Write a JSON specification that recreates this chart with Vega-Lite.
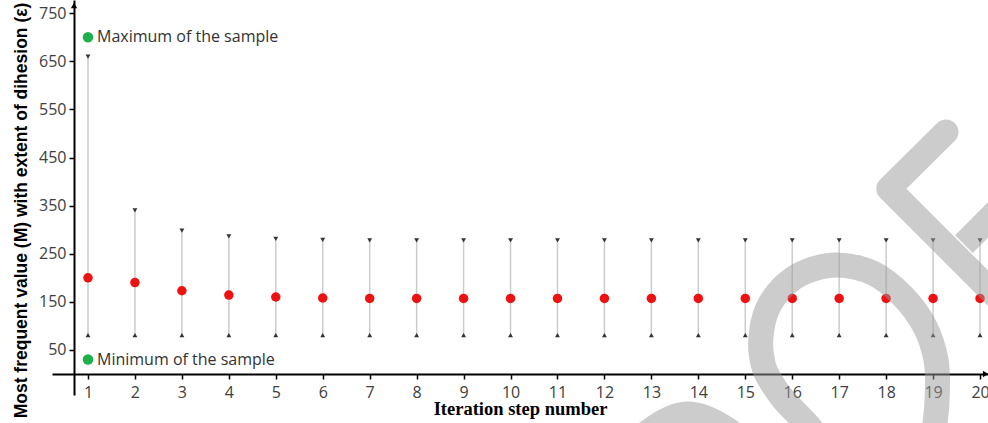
{
  "$schema": "https://vega.github.io/schema/vega-lite/v6.json",
  "width": 936,
  "height": 395,
  "autosize": {"type": "none"},
  "padding": {"left": 52, "top": 0, "right": 0, "bottom": 28},
  "background": "white",
  "config": {"view": {"stroke": null}},
  "datasets": {
    "steps": [
      {"step": 1, "m": 200, "lo": 81, "hi": 660},
      {"step": 2, "m": 190, "lo": 81, "hi": 340},
      {"step": 3, "m": 173, "lo": 81, "hi": 298},
      {"step": 4, "m": 164, "lo": 81, "hi": 286},
      {"step": 5, "m": 160, "lo": 81, "hi": 281},
      {"step": 6, "m": 158, "lo": 81, "hi": 279},
      {"step": 7, "m": 157, "lo": 81, "hi": 278},
      {"step": 8, "m": 157, "lo": 81, "hi": 278},
      {"step": 9, "m": 157, "lo": 81, "hi": 278},
      {"step": 10, "m": 157, "lo": 81, "hi": 278},
      {"step": 11, "m": 157, "lo": 81, "hi": 278},
      {"step": 12, "m": 157, "lo": 81, "hi": 278},
      {"step": 13, "m": 157, "lo": 81, "hi": 278},
      {"step": 14, "m": 157, "lo": 81, "hi": 278},
      {"step": 15, "m": 157, "lo": 81, "hi": 278},
      {"step": 16, "m": 157, "lo": 81, "hi": 278},
      {"step": 17, "m": 157, "lo": 81, "hi": 278},
      {"step": 18, "m": 157, "lo": 81, "hi": 278},
      {"step": 19, "m": 157, "lo": 81, "hi": 278},
      {"step": 20, "m": 157, "lo": 81, "hi": 278}
    ],
    "legend": [
      {"step": 1, "v": 700, "label": "Maximum of the sample"},
      {"step": 1, "v": 30, "label": "Minimum of the sample"}
    ],
    "arrows": [
      {"step": 0.7018, "v": 766, "shape": "triangle-up"},
      {"step": 20.12, "v": 0, "shape": "triangle-right"}
    ],
    "watermark": [
      {"piece": "ring", "i": 1, "x": 16.698, "y": -147.6},
      {"piece": "ring", "i": 2, "x": 16.294, "y": -101.9},
      {"piece": "ring", "i": 3, "x": 15.825, "y": -54.1},
      {"piece": "ring", "i": 4, "x": 15.527, "y": -12.5},
      {"piece": "ring", "i": 5, "x": 15.384, "y": 18.7},
      {"piece": "ring", "i": 6, "x": 15.329, "y": 70.7},
      {"piece": "ring", "i": 7, "x": 15.463, "y": 133.1},
      {"piece": "ring", "i": 8, "x": 15.804, "y": 180.9},
      {"piece": "ring", "i": 9, "x": 16.273, "y": 212.1},
      {"piece": "ring", "i": 10, "x": 16.948, "y": 226.6},
      {"piece": "ring", "i": 11, "x": 17.727, "y": 209.4},
      {"piece": "ring", "i": 12, "x": 18.366, "y": 160.7},
      {"piece": "ring", "i": 13, "x": 18.829, "y": 98.3},
      {"piece": "ring", "i": 14, "x": 19.063, "y": 29.1},
      {"piece": "ring", "i": 15, "x": 19.091, "y": -40.1},
      {"piece": "ring", "i": 16, "x": 19.042, "y": -101.9},
      {"piece": "ring", "i": 17, "x": 18.935, "y": -158.0},
      {"piece": "arc", "i": 1, "x": 12.332, "y": -189.2},
      {"piece": "arc", "i": 2, "x": 12.928, "y": -120.6},
      {"piece": "arc", "i": 3, "x": 13.759, "y": -83.2},
      {"piece": "arc", "i": 4, "x": 14.632, "y": -116.4},
      {"piece": "arc", "i": 5, "x": 15.208, "y": -178.8}
    ],
    "fshape": [
      {"piece": "f", "i": 1, "x": 19.276, "y": 503.1},
      {"piece": "f", "i": 2, "x": 18.057, "y": 385.1},
      {"piece": "f", "i": 3, "x": 21.917, "y": 8.3}
    ],
    "fbar": [
      {"piece": "bar", "i": 1, "x": 19.657, "y": 270.1},
      {"piece": "bar", "i": 2, "x": 21.065, "y": 407.5}
    ]
  },
  "layer": [
    {
      "data": {"name": "steps"},
      "mark": {"type": "rule", "color": "#cccccc", "strokeWidth": 1.5},
      "encoding": {
        "x": {
          "field": "step", "type": "quantitative",
          "scale": {"domain": [0.2332, 20.17], "nice": false, "zero": false},
          "axis": {
            "orient": "bottom", "offset": -21,
            "values": [1,2,3,4,5,6,7,8,9,10,11,12,13,14,15,16,17,18,19,20],
            "format": "d", "grid": false,
            "domainColor": "#000000", "domainWidth": 2,
            "tickColor": "#000000", "tickSize": 5, "tickWidth": 1.5,
            "labelFont": "Open Sans", "labelFontSize": 16, "labelColor": "#404040", "labelPadding": 5,
            "labelFlush": false,
            "title": "Iteration step number",
            "titleFont": "Liberation Serif", "titleFontSize": 18.5, "titleFontWeight": "bold",
            "titleColor": "#000000", "titlePadding": -1
          }
        },
        "y": {
          "field": "lo", "type": "quantitative",
          "scale": {"domain": [-43.7, 777.5], "nice": false, "zero": false},
          "axis": {
            "orient": "left", "offset": -22,
            "values": [50,100,150,200,250,300,350,400,450,500,550,600,650,700,750],
            "labelExpr": "datum.value % 100 == 50 ? datum.label : ''",
            "grid": false,
            "domainColor": "#000000", "domainWidth": 2,
            "tickColor": "#000000", "tickSize": 5, "tickWidth": 1.5,
            "labelFont": "Open Sans", "labelFontSize": 16, "labelColor": "#404040", "labelPadding": 3,
            "labelFlush": false,
            "title": "Most frequent value (M) with extent of dihesion (ε)",
            "titleFont": "Liberation Sans", "titleFontSize": 17.5, "titleFontWeight": "bold",
            "titleColor": "#000000", "titlePadding": 8, "titleY": 210
          }
        },
        "y2": {"field": "hi"}
      }
    },
    {
      "data": {"name": "steps"},
      "mark": {"type": "point", "shape": "triangle-down", "filled": true, "color": "#333333", "size": 24, "opacity": 1},
      "encoding": {
        "x": {"field": "step", "type": "quantitative"},
        "y": {"field": "hi", "type": "quantitative"}
      }
    },
    {
      "data": {"name": "steps"},
      "mark": {"type": "point", "shape": "triangle-up", "filled": true, "color": "#333333", "size": 24, "opacity": 1},
      "encoding": {
        "x": {"field": "step", "type": "quantitative"},
        "y": {"field": "lo", "type": "quantitative"}
      }
    },
    {
      "data": {"name": "steps"},
      "mark": {"type": "circle", "color": "#ee1111", "size": 90, "opacity": 1},
      "encoding": {
        "x": {"field": "step", "type": "quantitative"},
        "y": {"field": "m", "type": "quantitative"}
      }
    },
    {
      "data": {"name": "legend"},
      "mark": {"type": "circle", "color": "#1db04b", "size": 110, "opacity": 1},
      "encoding": {
        "x": {"field": "step", "type": "quantitative"},
        "y": {"field": "v", "type": "quantitative"}
      }
    },
    {
      "data": {"name": "legend"},
      "mark": {"type": "text", "align": "left", "baseline": "middle", "dx": 9, "font": "Open Sans", "fontSize": 16, "color": "#333333"},
      "encoding": {
        "x": {"field": "step", "type": "quantitative"},
        "y": {"field": "v", "type": "quantitative"},
        "text": {"field": "label"}
      }
    },
    {
      "data": {"name": "arrows"},
      "mark": {"type": "point", "filled": true, "color": "#000000", "size": 40, "opacity": 1},
      "encoding": {
        "x": {"field": "step", "type": "quantitative"},
        "y": {"field": "v", "type": "quantitative"},
        "shape": {"field": "shape", "type": "nominal", "scale": null, "legend": null}
      }
    },
    {
      "data": {"name": "watermark"},
      "mark": {"type": "line", "interpolate": "cardinal", "color": "#999999", "opacity": 0.5, "strokeWidth": 25, "strokeCap": "butt"},
      "encoding": {
        "x": {"field": "x", "type": "quantitative"},
        "y": {"field": "y", "type": "quantitative"},
        "detail": {"field": "piece"},
        "order": {"field": "i"}
      }
    },
    {
      "data": {"name": "fshape"},
      "mark": {"type": "line", "interpolate": "linear", "color": "#999999", "opacity": 0.5, "strokeWidth": 25, "strokeCap": "round", "strokeJoin": "round"},
      "encoding": {
        "x": {"field": "x", "type": "quantitative"},
        "y": {"field": "y", "type": "quantitative"},
        "order": {"field": "i"}
      }
    },
    {
      "data": {"name": "fbar"},
      "mark": {"type": "line", "interpolate": "linear", "color": "#999999", "opacity": 0.5, "strokeWidth": 25, "strokeCap": "butt"},
      "encoding": {
        "x": {"field": "x", "type": "quantitative"},
        "y": {"field": "y", "type": "quantitative"},
        "order": {"field": "i"}
      }
    }
  ]
}
